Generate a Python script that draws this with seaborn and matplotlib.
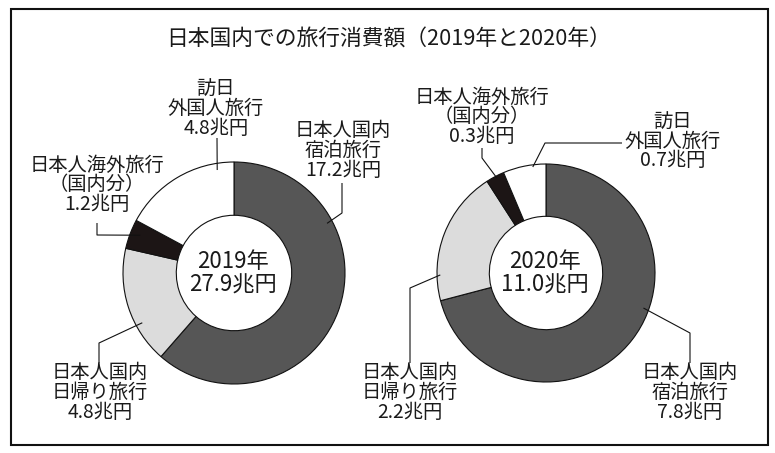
import matplotlib
matplotlib.use("Agg")
import matplotlib.pyplot as plt
import numpy as np
import seaborn as sns
from matplotlib.patches import Rectangle

sns.set_theme(style="white")
plt.rcParams['font.family'] = ['Noto Sans CJK JP', 'DejaVu Sans']

# ---------------- data ----------------
title = "日本国内での旅行消費額（2019年と2020年）"
categories = ["日本人国内宿泊旅行", "日本人国内日帰り旅行", "日本人海外旅行(国内分)", "訪日外国人旅行"]
name_lines = [["日本人国内", "宿泊旅行"],
              ["日本人国内", "日帰り旅行"],
              ["日本人海外旅行", "（国内分）"],
              ["訪日", "外国人旅行"]]
years = ["2019年", "2020年"]
totals = ["27.9兆円", "11.0兆円"]
values_2019 = [17.2, 4.8, 1.2, 4.8]
values_2020 = [7.8, 2.2, 0.3, 0.7]
colors = ["#565656", "#dcdcdc", "#1c1515", "#ffffff"]

# ---------------- layout (pixels, y downwards) ----------------
W, H = 775, 453
charts = [
    dict(values=values_2019, center=(234, 273), r=111,
         labels=[
             dict(text=(343, 130), path=[(342, 183), (342, 213)], frac=0.28, rf=0.95),
             dict(text=(100, 372), path=[(99, 363), (99, 343)], frac=0.33, rf=0.94),
             dict(text=(97, 165), path=[(97, 223), (97, 235)], frac=0.59, rf=0.91),
             dict(text=(216, 88), path=[(217, 138)], frac=0.85, rf=0.94),
         ]),
    dict(values=values_2020, center=(546, 273), r=109,
         labels=[
             dict(text=(690, 372), path=[(690, 363), (690, 333)], frac=0.43, rf=0.95),
             dict(text=(410, 372), path=[(410, 363), (410, 288)], frac=0.19, rf=0.97),
             dict(text=(482, 97), path=[(482, 148), (482, 158)], frac=0.55, rf=0.98),
             dict(text=(673, 121), path=[(622, 143), (545, 143)], frac=0.69, rf=0.98),
         ]),
]

fig = plt.figure(figsize=(W / 100, H / 100), dpi=100)
ax = fig.add_axes([0, 0, 1, 1])

def Y(y):
    return H - y

label_fs = 13.9
line_step = 20

for ci, ch in enumerate(charts):
    cx, cy = ch["center"]
    r = ch["r"]
    wedges, _ = ax.pie(ch["values"], colors=colors, startangle=90, counterclock=False,
                       center=(cx, Y(cy)), radius=r,
                       wedgeprops=dict(width=0.48 * r, edgecolor="#111111", linewidth=0.8))
    for k, (w, lab) in enumerate(zip(wedges, ch["labels"])):
        ang = np.deg2rad(w.theta2 - lab["frac"] * (w.theta2 - w.theta1))
        ax_pt = (cx + lab["rf"] * r * np.cos(ang), Y(cy) + lab["rf"] * r * np.sin(ang))
        pts = [(px, Y(py)) for px, py in lab["path"]] + [ax_pt]
        xs, ys = zip(*pts)
        ax.plot(xs, ys, color="#111111", lw=0.8, solid_capstyle="butt")
        lines = name_lines[k] + [f"{ch['values'][k]}兆円"]
        tx, ty = lab["text"]
        for i, s in enumerate(lines):
            ax.text(tx, Y(ty + i * line_step), s, ha="center", va="center",
                    fontsize=label_fs, color="#1a1a1a")
    ax.text(cx - 1, Y(262), years[ci], ha="center", va="center", fontsize=16, color="#1a1a1a")
    ax.text(cx - 1, Y(285), totals[ci], ha="center", va="center", fontsize=16, color="#1a1a1a")

ax.add_patch(Rectangle((11, Y(445)), 757, 436, fill=False, lw=1.5, edgecolor="#111111"))
ax.text(389, Y(40), title, ha="center", va="center", fontsize=15.7, color="#1a1a1a")

ax.set_xlim(0, W)
ax.set_ylim(0, H)
ax.set_aspect("equal")
ax.axis("off")
fig.savefig("out.png", dpi=100, facecolor="white")
